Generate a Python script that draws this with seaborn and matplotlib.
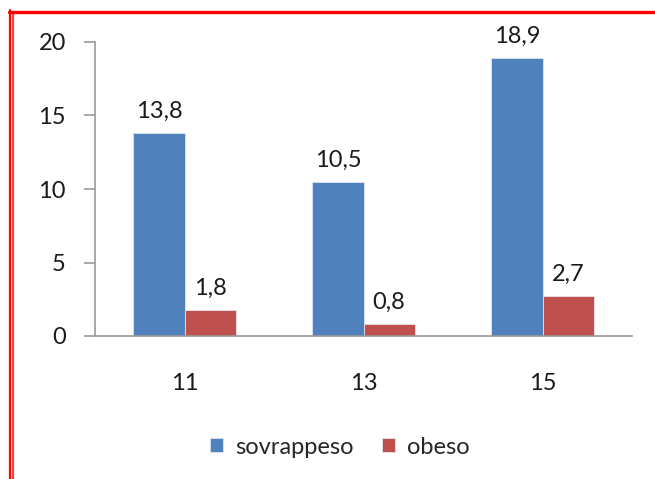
import matplotlib
matplotlib.use("Agg")
import matplotlib.pyplot as plt
import seaborn as sns
import pandas as pd
from matplotlib.lines import Line2D

ages = ["11", "13", "15"]
sovrappeso = [13.8, 10.5, 18.9]
obeso = [1.8, 0.8, 2.7]
series_names = ["sovrappeso", "obeso"]
colors = ["#4F81BD", "#C0504D"]

df = pd.DataFrame({
    "age": ages * 2,
    "value": sovrappeso + obeso,
    "serie": [series_names[0]] * 3 + [series_names[1]] * 3,
})

sns.set_style("white")
plt.rcParams["font.family"] = ["Lato", "DejaVu Sans"]

W, H = 655, 479
fig = plt.figure(figsize=(W / 100, H / 100), dpi=100)
ax = fig.add_axes([95 / W, 1 - 336 / H, (632 - 95) / W, (336 - 42) / H])

sns.barplot(data=df, x="age", y="value", hue="serie", palette=colors,
            width=0.57, gap=0, edgecolor="#dfe6f0", linewidth=0.6,
            saturation=1, ax=ax)

for cont in ax.containers:
    ax.bar_label(cont, labels=[f"{v:.1f}".replace(".", ",") for v in cont.datavalues],
                 padding=8, fontsize=17, color="#1a1a1a")

ax.set_xlim(-0.5, 2.5)
ax.set_ylim(0, 20)
ax.set_yticks([0, 5, 10, 15, 20])
ax.set_xlabel("")
ax.set_ylabel("")

for s in ["top", "right"]:
    ax.spines[s].set_visible(False)
for s in ["left", "bottom"]:
    ax.spines[s].set_color("#999999")
    ax.spines[s].set_linewidth(1.2)

ax.set_xticks([-0.5, 0.5, 1.5, 2.5], minor=True)
ax.tick_params(axis="x", which="major", length=0, labelsize=17, pad=27, colors="#1a1a1a")
ax.tick_params(axis="x", which="minor", length=7, width=1.2, color="#999999", direction="out")
ax.tick_params(axis="y", length=8, width=1.2, color="#999999", labelsize=17, pad=13,
               labelcolor="#1a1a1a", left=True)

handles = [plt.Rectangle((0, 0), 1, 1, facecolor=c, edgecolor="#dfe6f0", linewidth=0.6)
           for c in colors]
ax.legend(handles, series_names, loc="center", bbox_to_anchor=(340 / W, 1 - 447 / H),
          bbox_transform=fig.transFigure, ncol=2, frameon=False, fontsize=17,
          handlelength=0.55, handleheight=0.55, handletextpad=0.5, columnspacing=1.2)

# red frame
fig.add_artist(Line2D([9.5 / W, 9.5 / W], [0, 1 - 10 / H], color="red", lw=1.6))
fig.add_artist(Line2D([13 / W, 13 / W], [0, 1 - 13 / H], color="#ff4040", lw=1.6))
fig.add_artist(Line2D([9 / W, 1], [1 - 11.5 / H, 1 - 11.5 / H], color="red", lw=2.4))

fig.savefig("out.png", dpi=100, facecolor="white")
